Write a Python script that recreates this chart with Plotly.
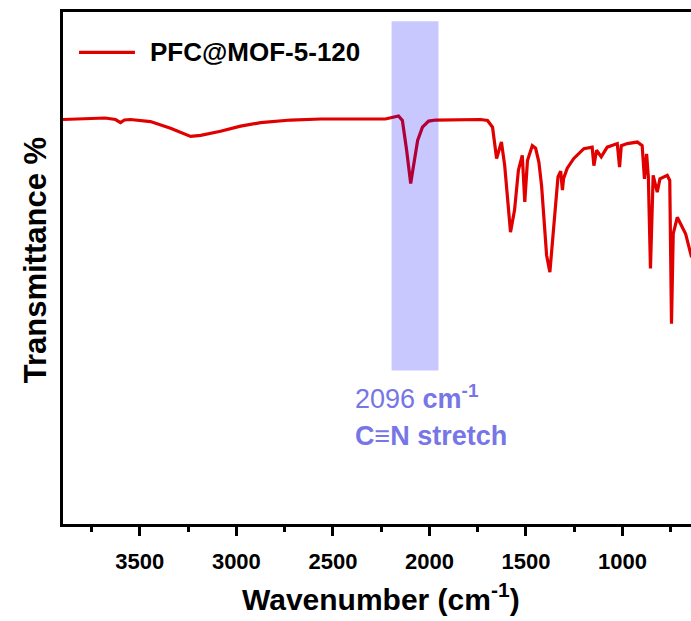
import plotly.graph_objects as go

# ---- data ----
wavenumber = [3898, 3810, 3680, 3626, 3600, 3580, 3548, 3445, 3341, 3237, 3185, 3082,
              2978, 2874, 2719, 2562, 2357, 2228, 2160, 2140, 2118, 2097, 2082, 2061,
              2036, 2004, 1968, 1839, 1735, 1699, 1673, 1652, 1627, 1610, 1594, 1580,
              1559, 1539, 1519, 1506, 1492, 1467, 1450, 1433, 1419, 1403, 1393, 1376,
              1362, 1346, 1334, 1320, 1311, 1305, 1286, 1252, 1200, 1157, 1148, 1134,
              1110, 1079, 1027, 1015, 1006, 975, 923, 898, 886, 875, 866, 855,
              841, 820, 806, 768, 755, 746, 737, 716, 673, 642]
transmittance = [79.0, 79.1, 79.3, 79.0, 78.4, 78.9, 79.0, 78.6, 77.3, 75.7, 75.9, 76.7,
                 77.7, 78.4, 78.9, 79.1, 79.1, 79.1, 79.7, 78.8, 73.0, 66.5, 70.0, 74.9,
                 77.5, 78.7, 78.9, 79.0, 79.0, 78.8, 77.5, 71.4, 74.6, 70.0, 62.2, 57.0,
                 61.3, 69.1, 72.0, 62.9, 71.0, 73.9, 73.4, 70.7, 66.1, 58.7, 52.5, 49.2,
                 55.4, 64.2, 67.8, 68.9, 65.2, 67.5, 69.5, 71.4, 73.3, 73.6, 70.0, 73.0,
                 71.7, 73.6, 74.3, 69.7, 73.9, 74.3, 74.6, 73.9, 67.4, 72.3, 67.8, 49.9,
                 68.1, 64.8, 67.4, 68.1, 67.1, 39.1, 56.7, 59.9, 56.7, 52.1]

series_name = "PFC@MOF-5-120"
x_range = [3898, 645]
y_range = [0, 100]
tick_values = [3500, 3000, 2500, 2000, 1500, 1000]
tick_labels = ["3500", "3000", "2500", "2000", "1500", "1000"]
band_x = [2196, 1953]
band_y = [30, 98.2]
band_label_x = 2398
band_label_1 = "2096 <b>cm<sup>-1</sup></b>"
band_label_2 = "<b>C≡N stretch</b>"

FONT = "Liberation Sans, Arial, sans-serif"
RED = "rgb(225,0,0)"
BLUE_TXT = "rgb(118,118,230)"

fig = go.Figure()
fig.add_trace(go.Scatter(x=wavenumber, y=transmittance, mode="lines",
                         name=series_name, showlegend=False,
                         line=dict(color=RED, width=3.2)))

# highlighted band
fig.add_shape(type="rect", xref="x", yref="y", x0=band_x[0], x1=band_x[1],
              y0=band_y[0], y1=band_y[1], layer="above",
              fillcolor="rgba(0,0,255,0.215)", line=dict(width=0))

# legend (drawn manually to match the long sample line)
fig.add_shape(type="line", xref="paper", yref="paper", x0=0.0255, x1=0.1146,
              y0=0.9213, y1=0.9213, line=dict(color=RED, width=3.2))
fig.add_annotation(xref="paper", yref="paper", x=0.1354, y=0.9213,
                   xanchor="left", yanchor="middle", showarrow=False,
                   text="<b>" + series_name + "</b>",
                   font=dict(family=FONT, size=26, color="black"))

# band labels
fig.add_annotation(xref="x", yref="y", x=band_label_x, y=24.9, showarrow=False,
                   xanchor="left", yanchor="middle", text=band_label_1,
                   font=dict(family=FONT, size=27, color=BLUE_TXT))
fig.add_annotation(xref="x", yref="y", x=band_label_x, y=17.2, showarrow=False,
                   xanchor="left", yanchor="middle", text=band_label_2,
                   font=dict(family=FONT, size=27, color=BLUE_TXT))

# axis titles
fig.add_annotation(xref="paper", yref="paper", x=-0.0446, y=0.515, textangle=-90,
                   showarrow=False, xanchor="center", yanchor="middle",
                   text="<b>Transmittance %</b>",
                   font=dict(family=FONT, size=31, color="black"))
fig.add_annotation(xref="paper", yref="paper", x=0.507, y=-0.143,
                   showarrow=False, xanchor="center", yanchor="middle",
                   text="<b>Wavenumber (cm<sup>-1</sup>)</b>",
                   font=dict(family=FONT, size=30, color="black"))

fig.update_layout(
    width=691, height=621,
    margin=dict(l=63, r=0, t=12, b=97),
    paper_bgcolor="white", plot_bgcolor="white",
    showlegend=False,
    xaxis=dict(range=x_range, tickmode="array", tickvals=tick_values,
               ticktext=["<b>" + t + "</b>" for t in tick_labels],
               ticks="outside", ticklen=9, tickwidth=2.5, tickcolor="black",
               ticklabelstandoff=7,
               minor=dict(ticks="outside", dtick=250, tick0=0, ticklen=5,
                          tickwidth=2.5, tickcolor="black", showgrid=False),
               showline=True, linecolor="black", linewidth=2.5, mirror=True,
               showgrid=False, zeroline=False,
               tickfont=dict(family=FONT, size=22, color="black")),
    yaxis=dict(range=y_range, showticklabels=False, ticks="",
               showline=True, linecolor="black", linewidth=2.5, mirror=False,
               showgrid=False, zeroline=False),
)

fig.write_html("out.html")
